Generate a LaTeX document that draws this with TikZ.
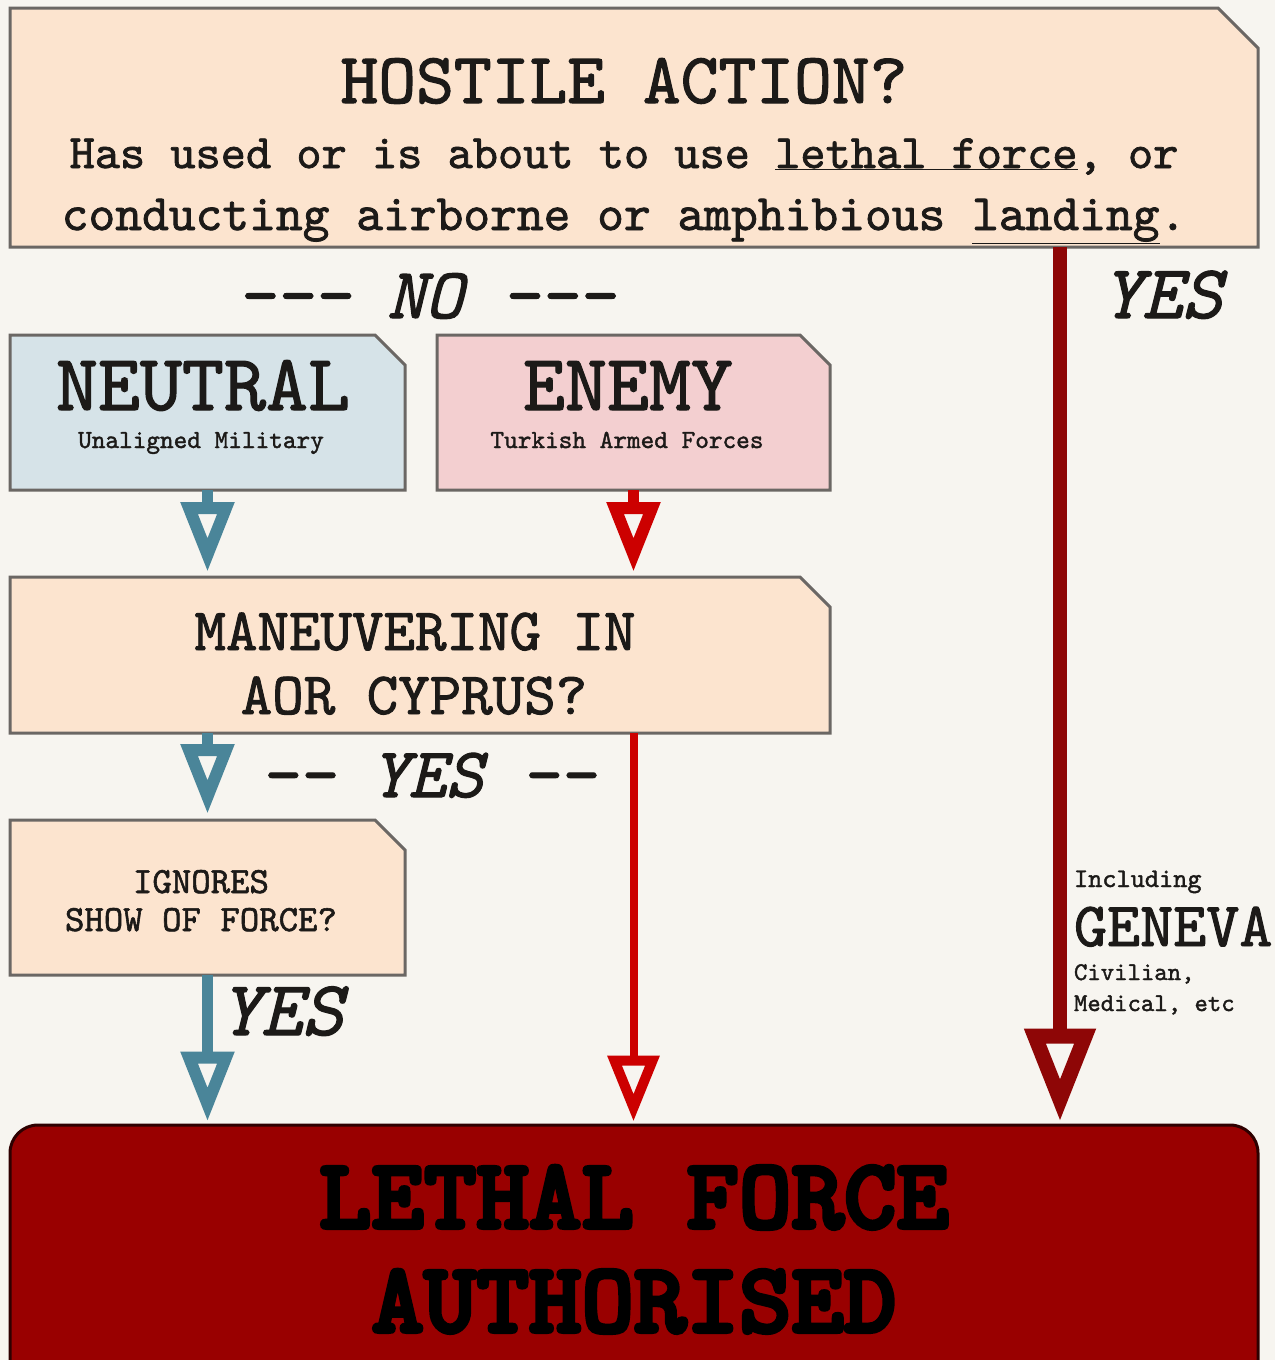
\documentclass[tikz,border=0pt]{standalone}
\usepackage{fontspec}
\usetikzlibrary{arrows.meta}
\newfontfamily\tw{lmmono10-regular.otf}[ItalicFont=lmmono10-italic.otf, FakeBold=1.5]
\newfontfamily\twbold{lmmonolt10-bold.otf}[FakeBold=4]
\definecolor{bgc}{HTML}{F7F5F0}
\definecolor{peach}{HTML}{FCE4CF}
\definecolor{bluec}{HTML}{D6E3E8}
\definecolor{pinkc}{HTML}{F3CFD0}
\definecolor{edgec}{HTML}{6B6764}
\definecolor{tealc}{HTML}{4A8599}
\definecolor{redc}{HTML}{CC0000}
\definecolor{darkred}{HTML}{8E0606}
\definecolor{lethalc}{HTML}{990000}
\definecolor{inkc}{HTML}{1C1A18}
\newcommand\fs[1]{\fontsize{#1}{#1}\selectfont\tw}
\newcommand\chamferbox[3]{%
  \filldraw[fill=#3, draw=edgec, line width=3pt, line join=miter]
    (#1.south west) -- (#1.north west) -- ([xshift=-#2]#1.north east)
    -- ([yshift=-#2]#1.north east) -- (#1.south east) -- cycle;}
\begin{document}
\begin{tikzpicture}[x=1pt,y=-1pt,
  area/.style={draw=none, inner sep=0pt, outer sep=0pt},
  lbl/.style={inner sep=0pt, outer sep=0pt, text=inkc, anchor=base, align=center},
  tealarrow/.style={draw=tealc, line width=11pt, -{Triangle[open, length=70pt, width=51pt, line width=12pt]}},
  redarrow/.style={draw=redc, line width=11pt, -{Triangle[open, length=70pt, width=51pt, line width=12pt]}},
  thinred/.style={draw=redc, line width=8pt, -{Triangle[open, length=66pt, width=50pt, line width=10pt]}},
  bigred/.style={draw=darkred, line width=14pt, -{Triangle[open, length=93pt, width=68pt, line width=15pt]}}]
\useasboundingbox (0,0) rectangle (1275,1360);
\clip (0,0) rectangle (1275,1360);
\fill[bgc] (0,0) rectangle (1275,1360);

% box areas
\node[area, minimum width=1248pt, minimum height=239pt] (top) at (634,127.5) {};
\node[area, minimum width=395pt, minimum height=155pt] (neutral) at (207.5,412.5) {};
\node[area, minimum width=393pt, minimum height=155pt] (enemy) at (633.5,412.5) {};
\node[area, minimum width=820pt, minimum height=156pt] (man) at (420,655) {};
\node[area, minimum width=395pt, minimum height=155pt] (ignores) at (207.5,897.5) {};

\chamferbox{top}{40pt}{peach}
\chamferbox{neutral}{30pt}{bluec}
\chamferbox{enemy}{30pt}{pinkc}
\chamferbox{man}{30pt}{peach}
\chamferbox{ignores}{30pt}{peach}

\node[draw=black!70!lethalc, fill=lethalc, line width=3pt, rounded corners=28pt,
      minimum width=1248pt, minimum height=270pt, inner sep=0pt] (lethal) at (634,1260) {};

% texts
\node[lbl, font=\fs{72}] (t1) at (624,103) {HOSTILE ACTION?};
\node[lbl, font=\fs{48}] (t2) at (624,168) {Has used or is about to use \underline{lethal force}, or};
\node[lbl, font=\fs{51}] (t3) at (624,230) {conducting airborne or amphibious \underline{landing}.};

\node[lbl, font=\fs{72}\itshape] (no) at (425,318) {-{}-{}- NO -{}-{}-};
\node[lbl, font=\fs{76}\itshape] (yestop) at (1162,318) {YES};

\node[lbl, font=\fs{80}] (neutralt) at (203,410) {NEUTRAL};
\node[lbl, font=\fs{26}] (neutrals) at (201,448) {Unaligned Military};
\node[lbl, font=\fs{80}] (enemyt) at (628,410) {ENEMY};
\node[lbl, font=\fs{26}] (enemys) at (627,448) {Turkish Armed Forces};

\node[lbl, font=\fs{60}] (man1) at (415,650) {MANEUVERING IN};
\node[lbl, font=\fs{60}] (man2) at (414,714) {AOR CYPRUS?};

\node[lbl, font=\fs{71}\itshape] (yesmid) at (427,797) {-{}- YES -{}-};

\node[lbl, font=\fs{37}] (ig1) at (201,893) {IGNORES};
\node[lbl, font=\fs{37}] (ig2) at (201,931) {SHOW OF FORCE?};

\node[lbl, font=\fs{78}\itshape, anchor=base west] (yesig) at (220,1035) {YES};

\node[lbl, font=\fs{27}, anchor=base west] (inc) at (1074,887) {Including};
\node[lbl, font=\fs{63}, anchor=base west] (geneva) at (1074,946) {GENEVA};
\node[lbl, font=\fs{25.5}, anchor=base west] (civ) at (1074,980) {Civilian,};
\node[lbl, font=\fs{25.5}, anchor=base west] (med) at (1074,1011) {Medical, etc};

\node[lbl, text=black, font=\fontsize{100}{100}\selectfont\twbold] (lf1) at (634,1228) {LETHAL FORCE};
\node[lbl, text=black, font=\fontsize{100}{100}\selectfont\twbold] (lf2) at (634,1332) {AUTHORISED};

% connectors
\draw[tealarrow, shorten >=5pt] (neutral.south) -- (man.north -| neutral.south);
\draw[redarrow, shorten >=5pt] (enemy.south) -- (man.north -| enemy.south);
\draw[tealarrow, shorten >=6pt] (ignores.north |- man.south) -- (ignores.north);
\draw[thinred, shorten >=2pt] (enemy.south |- man.south) -- (enemy.south |- lethal.north);
\draw[tealarrow, shorten >=2pt] (ignores.south) -- (ignores.south |- lethal.north);
\draw[bigred, shorten >=2pt] ([xshift=-198pt]top.south east) -- ([xshift=-198pt]top.south east |- lethal.north);
\end{tikzpicture}
\end{document}
